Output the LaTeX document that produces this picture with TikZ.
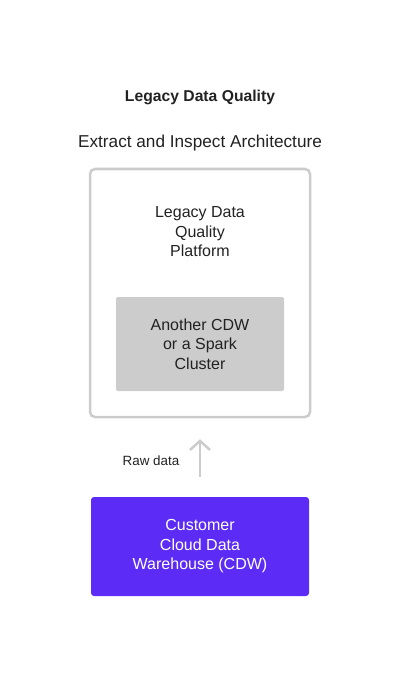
\documentclass[tikz,border=0pt]{standalone}
\usepackage{fontspec}
\setmainfont{Liberation Sans}
\usetikzlibrary{arrows.meta}
\definecolor{edgegray}{RGB}{204, 204, 204}
\definecolor{cdwpurple}{RGB}{92, 44, 246}
\definecolor{textdark}{RGB}{34, 34, 34}

\begin{document}
\begin{tikzpicture}[x=1pt, y=-1pt, thick, text=textdark,
    boxtext/.style={align=center, font=\fontsize{16}{19.5}\selectfont}]
  \useasboundingbox (0, 0) rectangle (400, 687);

  \node[font=\bfseries\fontsize{15.7}{18}\selectfont] (title) at (200, 97) {Legacy Data Quality};
  \node[font=\fontsize{17.2}{20}\selectfont] (subtitle) at (200, 143) {Extract and Inspect Architecture};

  \node[draw=edgegray, line width=2.5pt, rounded corners=5pt,
        minimum width=220pt, minimum height=248pt] (platform) at (200, 293) {};
  \node[boxtext] (platformlabel) at (200, 232) {Legacy Data\\Quality\\Platform};
  \node[boxtext, fill=edgegray, rounded corners=2pt,
        minimum width=168pt, minimum height=94pt] (spark) at (200, 344) {Another CDW\\or a Spark\\Cluster};

  \node[boxtext, fill=cdwpurple, text=white, rounded corners=3pt,
        minimum width=218pt, minimum height=99pt] (cdw) at (200, 546.5) {Customer\\Cloud Data\\Warehouse (CDW)};

  \draw[edgegray, line width=2.5pt, -{Straight Barb[length=9pt, width=20pt]}]
    ([yshift=20pt]cdw.north) -- ([yshift=-21pt]platform.south);
  \node[font=\fontsize{13.4}{16}\selectfont] (rawlabel) at (151, 461) {Raw data};
\end{tikzpicture}
\end{document}
